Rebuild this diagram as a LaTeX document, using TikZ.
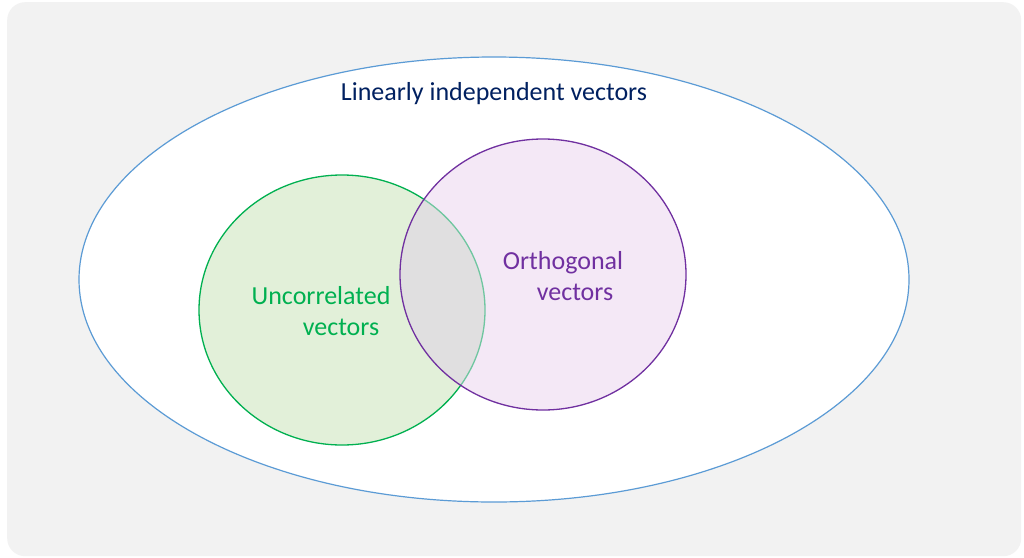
\documentclass[tikz,border=0pt]{standalone}
\usepackage{fontspec}
\setmainfont{Carlito}
\usetikzlibrary{shapes.geometric}
\definecolor{panel}{HTML}{F2F2F2}
\definecolor{outerline}{HTML}{5B9BD5}
\definecolor{navy}{HTML}{002060}
\definecolor{grn}{HTML}{00B050}
\definecolor{grnfill}{HTML}{E2F0D9}
\definecolor{prp}{HTML}{7030A0}
\definecolor{prpfill}{HTML}{F4E8F6}
\definecolor{overlap}{HTML}{E0DFE0}
\definecolor{grnfaint}{HTML}{6FC6A0}
\tikzset{
  lbl/.style={font=\fontsize{26}{31}\selectfont, align=center, inner sep=0pt},
}
\begin{document}
\begin{tikzpicture}[x=1pt,y=-1pt]
\useasboundingbox (0,0) rectangle (1024,557);
% background panel
\fill[white] (0,0) rectangle (1024,557);
\node[fill=panel, rounded corners=18pt, minimum width=1014pt, minimum height=554pt, inner sep=0pt, anchor=north west] (panel) at (7,2) {};
% outer set
\node[draw=outerline, fill=white, line width=1.2pt, ellipse, minimum width=830pt, minimum height=445pt, inner sep=0pt] (indep) at (494,279.5) {};
% uncorrelated set
\node[draw=grn, fill=grnfill, line width=1.3pt, ellipse, minimum width=286pt, minimum height=270pt, inner sep=0pt] (uncor) at (342,310) {};
% orthogonal set
\node[fill=prpfill, ellipse, minimum width=286pt, minimum height=271pt, inner sep=0pt] (orth) at (543,274.5) {};
% overlap region
\begin{scope}
  \clip (342,310) ellipse [x radius=143, y radius=135];
  \fill[overlap] (543,274.5) ellipse [x radius=143, y radius=135.5];
\end{scope}
\begin{scope}
  \clip (543,274.5) ellipse [x radius=143, y radius=135.5];
  \draw[grnfaint, line width=1.3pt] (342,310) ellipse [x radius=143, y radius=135];
\end{scope}
\draw[prp, line width=1.3pt] (543,274.5) ellipse [x radius=143, y radius=135.5];
% labels
\node[lbl, text=navy] (tindep) at (494,94) {Linearly independent vectors};
\node[lbl, text=grn] (tuncor) at (321,311) {Uncorrelated\\\hspace*{40pt}vectors};
\node[lbl, text=prp] (torth) at (563,276) {Orthogonal\\\hspace*{24pt}vectors};
\end{tikzpicture}
\end{document}
